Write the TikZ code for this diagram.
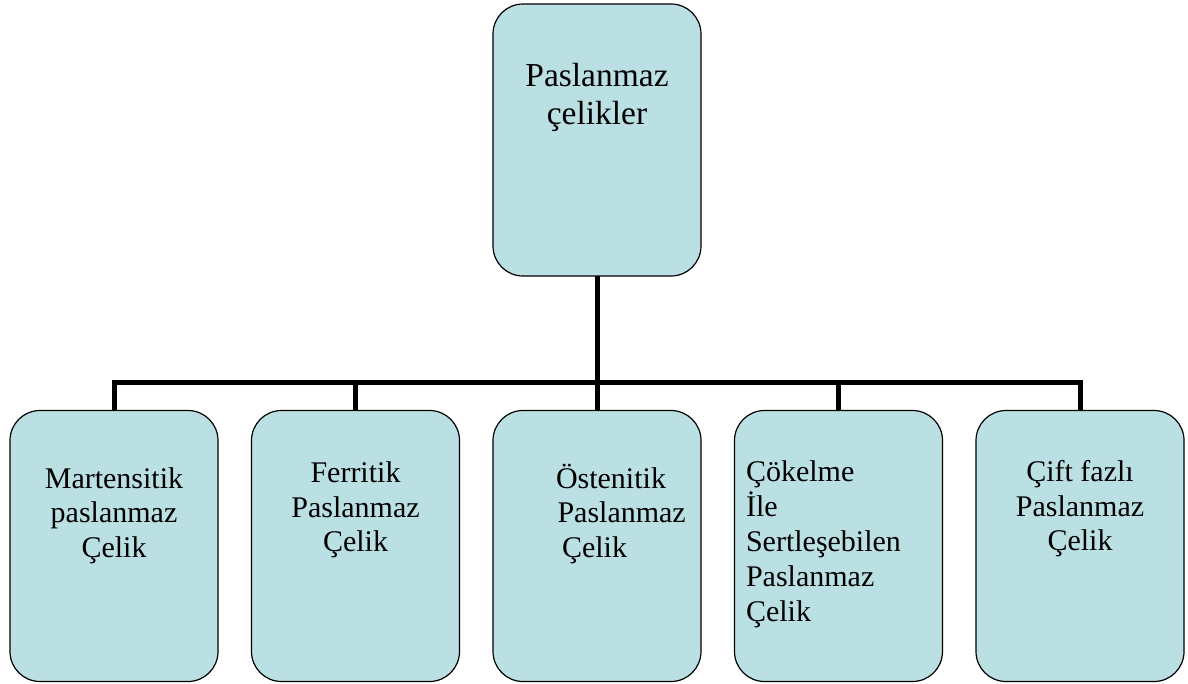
\documentclass[tikz,border=0pt]{standalone}
\usepackage{fontspec}
\setmainfont{Liberation Serif}
\definecolor{boxfill}{HTML}{BBE0E3}
\begin{document}
\begin{tikzpicture}[x=1pt,y=-1pt,
  box/.style={draw=black,line width=1.2pt,fill=boxfill,rounded corners=30pt,
    minimum width=208pt,inner sep=0pt,outer sep=0pt},
  topbox/.style={box,minimum height=272pt},
  lowbox/.style={box,minimum height=271pt},
  conn/.style={line width=5pt,line join=miter},
  lbl/.style={inner sep=0pt,outer sep=0pt,anchor=base},
  lbll/.style={inner sep=0pt,outer sep=0pt,anchor=base west},
  bigtxt/.style={font=\fontsize{33.5}{38}\selectfont},
  smalltxt/.style={font=\fontsize{30}{34.5}\selectfont}]
\useasboundingbox (0,0) rectangle (1188,683);
% boxes
\node[topbox] (b0) at (597,140) {};
\node[lowbox] (b1) at (114,546) {};
\node[lowbox] (b2) at (355.5,546) {};
\node[lowbox] (b3) at (597,546) {};
\node[lowbox] (b4) at (838.5,546) {};
\node[lowbox] (b5) at (1080,546) {};
% connectors
\coordinate (h) at (597,382);
\draw[conn] (b0.south) -- (h);
\draw[conn] (b1.north) -- (b1.north |- h) -- (b5.north |- h) -- (b5.north);
\draw[conn] (b2.north) -- (b2.north |- h);
\draw[conn] (b3.north) -- (b3.north |- h);
\draw[conn] (b4.north) -- (b4.north |- h);
% texts
\node[lbl,bigtxt] (t0) at (597,86) {\begin{tabular}[t]{@{}c@{}}Paslanmaz\\çelikler\end{tabular}};
\node[lbl,smalltxt] (t1) at (114,488) {\begin{tabular}[t]{@{}c@{}}Martensitik\\paslanmaz\\Çelik\end{tabular}};
\node[lbl,smalltxt] (t2) at (355.5,482.7) {\begin{tabular}[t]{@{}c@{}}Ferritik\\Paslanmaz\\Çelik\end{tabular}};
\node[lbll,smalltxt] (t3) at (556,488) {\begin{tabular}[t]{@{}l@{}}Östenitik\\\hspace{1.5pt}Paslanmaz\\\hspace{6pt}Çelik\end{tabular}};
\node[lbll,font=\fontsize{30}{35}\selectfont] (t4) at (746,481.7) {\begin{tabular}[t]{@{}l@{}}Çökelme\\İle\\Sertleşebilen\\Paslanmaz\\Çelik\end{tabular}};
\node[lbl,smalltxt] (t5) at (1080,481.7) {\begin{tabular}[t]{@{}c@{}}Çift fazlı\\Paslanmaz\\Çelik\end{tabular}};
\end{tikzpicture}
\end{document}
